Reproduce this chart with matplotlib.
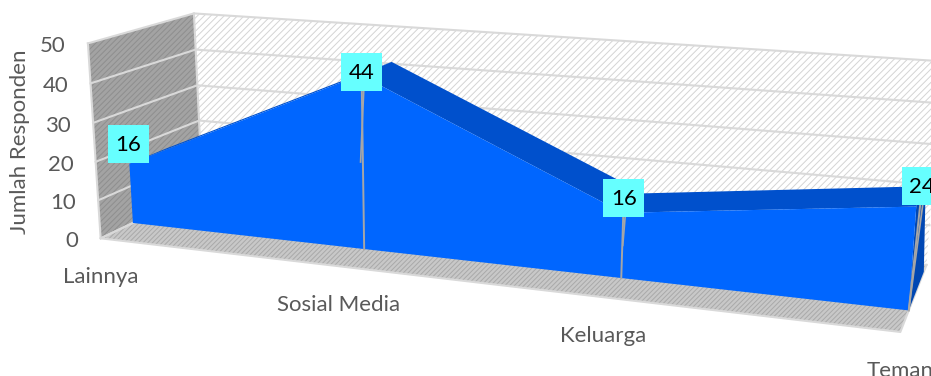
import numpy as np
import matplotlib
matplotlib.use("Agg")
import matplotlib.pyplot as plt
from matplotlib.patches import Polygon

categories = ["Lainnya", "Sosial Media", "Keluarga", "Teman"]
responden = [16, 44, 16, 24]
y_ticks = [0, 10, 20, 30, 40, 50]
y_label = "Jumlah Responden"

# box centre of each data label relative to the projected point, in pixels
label_offsets = [(-1, -20), (1, -3), (1, -15), (6, -21)]

Y_MAX = 50
Z_FRONT = 0.295
Z_BACK = 0.66
Z_SIDE = 0.885

# camera calibration: unit cube (x, y, z) against picture pixels
cube_pts = [
    (0, 0, 0), (0, 1, 0), (0, 0, 1), (0, 1, 1),
    (1, 0, 0), (1, 0, 1), (1, 1, 1),
    (0, 0, Z_FRONT), (1/3, 0, Z_FRONT), (2/3, 0, Z_FRONT), (1, 0, Z_FRONT),
    (0, 0.32, Z_FRONT), (1/3, 0.88, Z_FRONT), (2/3, 0.32, Z_FRONT), (1, 0.48, Z_FRONT),
    (1/3, 0.88, Z_BACK), (2/3, 0.32, Z_BACK),
]
pixel_pts = [
    (100, 239), (87, 44), (203, 190), (192, 14),
    (901, 333), (927, 265), (942, 62),
    (133, 223), (363, 249), (621, 278), (909, 311),
    (131, 163), (363, 74), (622, 212), (915, 206),
    (393, 62), (643, 192),
]


def fit_camera(cube, pixels):
    rows = []
    rhs = []
    for (x, y, z), (u, v) in zip(cube, pixels):
        rows.append([x, y, z, 1, 0, 0, 0, 0, -u*x, -u*y, -u*z])
        rhs.append(u)
        rows.append([0, 0, 0, 0, x, y, z, 1, -v*x, -v*y, -v*z])
        rhs.append(v)
    h = np.linalg.lstsq(np.array(rows, float), np.array(rhs, float), rcond=None)[0]
    return np.append(h, 1).reshape(3, 4)


cam = fit_camera(cube_pts, pixel_pts)


def project(x, value, z):
    p = cam @ np.array([x, value / Y_MAX, z, 1])
    return p[0] / p[2], p[1] / p[2]


plt.rcParams['font.family'] = ['Lato', 'DejaVu Sans']
plt.rcParams['hatch.linewidth'] = 0.7

fig = plt.figure(figsize=(9.31, 3.76), dpi=100)
ax = fig.add_axes([0, 0, 1, 1])
ax.set_xlim(0, 931)
ax.set_ylim(376, 0)
ax.axis('off')

GRID = '#d9d9d9'
TEXT = '#595959'
FONT = 16


def face(points, fc, hatch_color=None, hatch=None, zorder=1):
    ax.add_patch(Polygon(points, closed=True, facecolor=fc, edgecolor=hatch_color or fc,
                         hatch=hatch, linewidth=0, zorder=zorder))


# walls and floor
face([project(0, 0, 0), project(0, Y_MAX, 0), project(0, Y_MAX, 1), project(0, 0, 1)],
     '#a3a3a3', '#8e8e8e', '//////')
face([project(0, 0, 1), project(0, Y_MAX, 1), project(1, Y_MAX, 1), project(1, 0, 1)],
     'white', '#d4d4d4', '/////')
face([project(0, 0, 0), project(0, 0, 1), project(1, 0, 1), project(1, 0, 0)],
     '#c8c8c8', '#a9a9a9', '///////')

# gridlines along left and back wall
for t in y_ticks:
    pts = [project(0, t, 0), project(0, t, 1), project(1, t, 1)]
    ax.plot(*zip(*pts), color=GRID, linewidth=1.5, zorder=2)
    u, v = project(0, t, 0)
    ax.text(u - 22, v + 3, str(t), ha='right', va='center', fontsize=FONT, color=TEXT, zorder=8)

# wall edges
edge = [project(0, Y_MAX, 0), project(0, 0, 0), project(1, 0, 0), project(1, 0, 1)]
ax.plot(*zip(*edge), color=GRID, linewidth=1.5, zorder=2)
ax.plot(*zip(project(0, 0, 0), project(0, 0, 1)), color=GRID, linewidth=1.5, zorder=2)
ax.plot(*zip(project(0, 0, 1), project(0, Y_MAX, 1)), color=GRID, linewidth=1.5, zorder=2)

# area: top surface, right side, then the front face
xs = [i / (len(categories) - 1) for i in range(len(categories))]
for i in range(len(xs) - 1):
    face([project(xs[i], responden[i], Z_FRONT), project(xs[i + 1], responden[i + 1], Z_FRONT),
          project(xs[i + 1], responden[i + 1], Z_BACK), project(xs[i], responden[i], Z_BACK)],
         '#0050cc', zorder=3)
face([project(1, 0, Z_FRONT), project(1, responden[-1], Z_FRONT),
      project(1, responden[-1], Z_BACK), project(1, 0, Z_SIDE)], '#0047b3', zorder=3)
front = [project(0, 0, Z_FRONT)]
front += [project(x, r, Z_FRONT) for x, r in zip(xs, responden)]
front += [project(1, 0, Z_FRONT)]
face(front, '#0066ff', zorder=4)

# drop lines, data labels, category labels
for x, r, off in zip(xs, responden, label_offsets):
    top = project(x, r, Z_FRONT)
    bottom = project(x, 0, Z_FRONT)
    box_x, box_y = top[0] + off[0], top[1] + off[1]
    if x > 0:
        ax.plot([bottom[0], box_x], [bottom[1], box_y], color='#a6a6a6', linewidth=1.4, zorder=5)
        start_y = bottom[1] if x == 1 else (top[1] + bottom[1]) / 2
        start_x = bottom[0] if x == 1 else top[0]
        ax.plot([start_x, box_x + 3], [start_y, box_y], color='#a6a6a6', linewidth=1.2, zorder=5)
    ax.text(box_x, box_y + 1, str(r), ha='center', va='center', fontsize=FONT, color='black', zorder=7)
    ax.add_patch(plt.Rectangle((box_x - 20.5, box_y - 19), 41, 38, facecolor='#66ffff',
                               edgecolor='none', zorder=6))

for x, name in zip(xs, categories):
    u, v = project(x, 0, 0)
    ax.text(u, v + 39, name, ha='center', va='center', fontsize=FONT, color=TEXT, zorder=8)

ax.text(20, 142, y_label, rotation=90, ha='center', va='center', fontsize=FONT, color=TEXT, zorder=8)

fig.savefig('out.png', dpi=100)
plt.close(fig)
